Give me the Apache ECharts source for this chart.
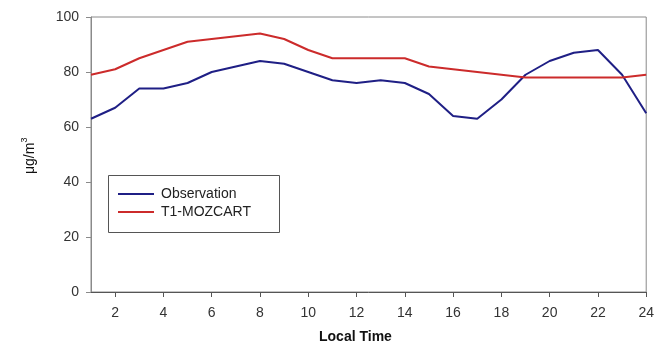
<!DOCTYPE html>
<html>
<head>
<meta charset="utf-8">
<script src="https://cdn.jsdelivr.net/npm/echarts@6/dist/echarts.min.js"></script>
<style>html,body{margin:0;padding:0;background:#fff}#c{width:657px;height:347px}</style>
</head>
<body>
<div id="c"></div>
<script>
var hours = ['1','2','3','4','5','6','7','8','9','10','11','12','13','14','15','16','17','18','19','20','21','22','23','24'];
var observation = [63,67,74,74,76,80,82,84,83,80,77,76,77,76,72,64,63,70,79,84,87,88,79,65];
var mozcart = [79,81,85,88,91,92,93,94,92,88,85,85,85,85,82,81,80,79,78,78,78,78,78,79];
var yTicks = [0,20,40,60,80,100];

var chart = echarts.init(document.getElementById('c'));
var FONT = 'Liberation Sans, Arial, sans-serif';
chart.setOption({
  animation: false,
  backgroundColor: '#fff',
  grid: { left: 91, right: 8, top: 17, bottom: 55, show: true, borderColor: '#8a8a8a', borderWidth: 1 },
  xAxis: {
    type: 'category', data: hours, boundaryGap: false,
    axisLine: { lineStyle: { color: '#555', width: 1 } },
    axisTick: { show: true, length: 5, lineStyle: { color: '#555' }, interval: function (i) { return i % 2 === 1; } },
    axisLabel: { color: '#333', fontSize: 14, fontFamily: FONT, margin: 14, interval: function (i) { return i % 2 === 1; } },
    splitLine: { show: false }
  },
  yAxis: {
    type: 'value', min: yTicks[0], max: yTicks[yTicks.length - 1], interval: 20,
    axisLine: { show: true, lineStyle: { color: '#8a8a8a', width: 1 } },
    axisTick: { show: true, length: 5, lineStyle: { color: '#8a8a8a' } },
    axisLabel: { color: '#333', fontSize: 14, fontFamily: FONT, margin: 12 },
    splitLine: { show: false }
  },
  legend: {
    orient: 'vertical', left: 113, top: 182, itemWidth: 36, itemHeight: 2, itemGap: 4,
    icon: 'rect',
    textStyle: { fontSize: 14, fontFamily: FONT, color: '#222', padding: [0, 0, 0, 2] },
    data: ['Observation', 'T1-MOZCART']
  },
  graphic: [
    { type: 'rect', left: 106, top: 173, shape: { width: 171, height: 57 }, style: { fill: 'none', stroke: '#555', lineWidth: 1 }, z: 100 },
    { type: 'text', left: 319, top: 330, style: { text: 'Local Time', font: 'bold 14px ' + FONT, fill: '#111' } },
    { type: 'text', x: 20, y: 174, rotation: Math.PI / 2, style: { text: '{a|μg/m}{b|3}', rich: { a: { font: '14px ' + FONT, fill: '#111', verticalAlign: 'bottom' }, b: { font: '9px ' + FONT, fill: '#111', verticalAlign: 'top', padding: [0, 0, 8, 0] } } } }
  ],
  series: [
    { name: 'Observation', type: 'line', data: observation, showSymbol: false, symbol: 'none', lineStyle: { color: '#1f1f85', width: 2 }, itemStyle: { color: '#1f1f85' } },
    { name: 'T1-MOZCART', type: 'line', data: mozcart, showSymbol: false, symbol: 'none', lineStyle: { color: '#cc2b2b', width: 2 }, itemStyle: { color: '#cc2b2b' } }
  ]
});
</script>
</body>
</html>
